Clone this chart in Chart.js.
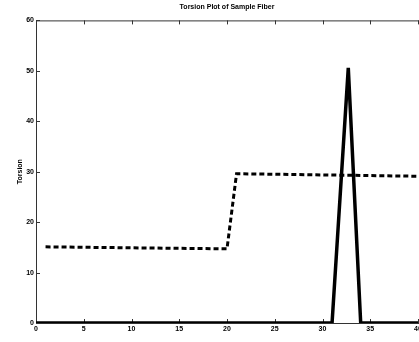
<!DOCTYPE html>
<html>
<head>
<meta charset="utf-8">
<script src="https://cdn.jsdelivr.net/npm/chart.js@4.4.1/dist/chart.umd.min.js"></script>
<style>
  html, body { margin: 0; padding: 0; background: #fff; overflow: hidden; }
  #wrap { position: relative; width: 432px; height: 342px; }
</style>
</head>
<body>
<div id="wrap"><canvas id="chart"></canvas></div>
<script>
// axis ticks
const xTicks = [0, 5, 10, 15, 20, 25, 30, 35, 40];
const yTicks = [0, 10, 20, 30, 40, 50, 60];

// dashed step series
const stepX = [1, 20, 21, 40];
const stepY = [15.1, 14.7, 29.6, 29.1];

// solid peak series
const peakX = [0, 31, 32.7, 34, 40];
const peakY = [0, 0, 50.6, 0, 0];

const toPoints = (xs, ys) => xs.map((x, i) => ({ x: x, y: ys[i] }));

const labelFont = { family: 'Liberation Sans, Arial, sans-serif', size: 7, weight: 'bold' };

// inward tick marks and top frame line, like the original plot
const frameTicks = {
    id: 'frameTicks',
    beforeDatasetsDraw(chart) {
        const { ctx, chartArea: a, scales } = chart;
        ctx.save();
        ctx.strokeStyle = '#333';
        ctx.lineWidth = 1;
        ctx.beginPath();
        ctx.moveTo(a.left, a.top + 0.5);
        ctx.lineTo(a.right + 20, a.top + 0.5);
        xTicks.forEach(v => {
            const px = Math.round(scales.x.getPixelForValue(v)) + 0.5;
            ctx.moveTo(px, a.bottom);
            ctx.lineTo(px, a.bottom - 4);
            ctx.moveTo(px, a.top);
            ctx.lineTo(px, a.top + 4);
        });
        yTicks.forEach(v => {
            const py = Math.round(scales.y.getPixelForValue(v)) + 0.5;
            ctx.moveTo(a.left, py);
            ctx.lineTo(a.left + 4, py);
        });
        ctx.stroke();
        ctx.restore();
    }
};

new Chart(document.getElementById('chart'), {
    type: 'line',
    data: {
        datasets: [
            {
                label: 'Step',
                data: toPoints(stepX, stepY),
                borderColor: '#000',
                borderWidth: 3,
                borderDash: [5, 3],
                pointRadius: 0,
                tension: 0
            },
            {
                label: 'Peak',
                data: toPoints(peakX, peakY),
                borderColor: '#000',
                borderWidth: 3.5,
                pointRadius: 0,
                tension: 0
            }
        ]
    },
    options: {
        responsive: true,
        maintainAspectRatio: false,
        animation: false,
        layout: { padding: { left: 0, right: 14, top: 0, bottom: 0 } },
        plugins: {
            legend: { display: false },
            tooltip: { enabled: false },
            title: {
                display: true,
                text: 'Torsion Plot of Sample Fiber',
                color: '#000',
                fullSize: false,
                font: labelFont,
                padding: { top: 3, bottom: 9 }
            }
        },
        scales: {
            x: {
                type: 'linear',
                min: 0,
                max: 40,
                ticks: {
                    stepSize: 5,
                    color: '#000',
                    font: labelFont,
                    padding: 2,
                    maxRotation: 0
                },
                grid: { display: false, drawTicks: false },
                border: { display: true, color: '#333', width: 1 },
                afterFit: s => { s.height = 19; }
            },
            y: {
                min: 0,
                max: 60,
                ticks: {
                    stepSize: 10,
                    color: '#000',
                    font: labelFont,
                    padding: 2
                },
                grid: { display: false, drawTicks: false },
                border: { display: true, color: '#333', width: 1 },
                title: {
                    display: true,
                    text: 'Torsion',
                    color: '#000',
                    font: labelFont,
                    padding: { top: 16, bottom: 0 }
                },
                afterFit: s => { s.width = 36; }
            }
        }
    },
    plugins: [frameTicks]
});
</script>
</body>
</html>
